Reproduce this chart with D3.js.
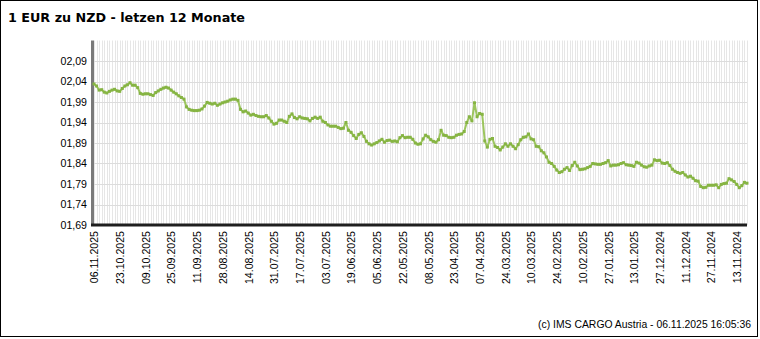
<!DOCTYPE html>
<html>
<head>
<meta charset="utf-8">
<script src="https://cdn.jsdelivr.net/npm/d3@7"></script>
<style>
  html, body { margin: 0; padding: 0; background: #fff; }
  svg { display: block; }
</style>
</head>
<body>
<script>
// ---- data (newest on the left, oldest on the right) ----
const title = "1 EUR zu NZD - letzen 12 Monate";
const footer = "(c) IMS CARGO Austria - 06.11.2025 16:05:36";

const rates = [
  2.034, 2.029, 2.019, 2.020, 2.014, 2.012, 2.016, 2.019, 2.021, 2.017,
  2.016, 2.023, 2.029, 2.032, 2.037, 2.031, 2.031, 2.025, 2.011, 2.009,
  2.010, 2.010, 2.008, 2.006, 2.013, 2.017, 2.021, 2.024, 2.026, 2.024,
  2.019, 2.014, 2.010, 2.005, 2.001, 1.997, 1.978, 1.972, 1.970, 1.969,
  1.969, 1.970, 1.973, 1.980, 1.989, 1.987, 1.985, 1.987, 1.982, 1.985,
  1.988, 1.990, 1.992, 1.995, 1.997, 1.997, 1.994, 1.972, 1.966, 1.968,
  1.963, 1.958, 1.960, 1.957, 1.955, 1.954, 1.954, 1.957, 1.951, 1.943,
  1.936, 1.938, 1.946, 1.946, 1.943, 1.940, 1.955, 1.961, 1.952, 1.949,
  1.954, 1.951, 1.950, 1.949, 1.944, 1.950, 1.953, 1.950, 1.953, 1.943,
  1.940, 1.934, 1.931, 1.931, 1.931, 1.928, 1.925, 1.926, 1.940, 1.921,
  1.916, 1.908, 1.901, 1.911, 1.915, 1.906, 1.894, 1.888, 1.885, 1.888,
  1.891, 1.895, 1.899, 1.892, 1.896, 1.897, 1.894, 1.895, 1.893, 1.903,
  1.908, 1.903, 1.904, 1.904, 1.899, 1.890, 1.887, 1.888, 1.900, 1.909,
  1.905, 1.898, 1.894, 1.892, 1.898, 1.921, 1.909, 1.908, 1.904, 1.903,
  1.904, 1.909, 1.911, 1.912, 1.918, 1.940, 1.954, 1.944, 1.988, 1.954,
  1.962, 1.960, 1.895, 1.880, 1.899, 1.901, 1.882, 1.879, 1.873, 1.880,
  1.888, 1.882, 1.888, 1.882, 1.876, 1.886, 1.898, 1.904, 1.905, 1.912,
  1.900, 1.898, 1.882, 1.881, 1.871, 1.866, 1.856, 1.843, 1.840, 1.833,
  1.824, 1.818, 1.820, 1.826, 1.830, 1.823, 1.835, 1.843, 1.834, 1.825,
  1.826, 1.827, 1.830, 1.833, 1.840, 1.839, 1.838, 1.838, 1.840, 1.842,
  1.847, 1.834, 1.836, 1.836, 1.837, 1.840, 1.842, 1.837, 1.836, 1.835,
  1.833, 1.843, 1.841, 1.836, 1.832, 1.831, 1.834, 1.836, 1.849, 1.847,
  1.848, 1.841, 1.840, 1.842, 1.835, 1.826, 1.821, 1.818, 1.816, 1.818,
  1.812, 1.807, 1.809, 1.804, 1.798, 1.797, 1.784, 1.781, 1.782, 1.787,
  1.787, 1.787, 1.788, 1.781, 1.789, 1.791, 1.792, 1.803, 1.800, 1.796,
  1.789, 1.781, 1.786, 1.794, 1.792
];

// one date label every 10 trading days
const dateLabels = [
  "06.11.2025", "23.10.2025", "09.10.2025", "25.09.2025", "11.09.2025",
  "28.08.2025", "14.08.2025", "31.07.2025", "17.07.2025", "03.07.2025",
  "19.06.2025", "05.06.2025", "22.05.2025", "08.05.2025", "23.04.2025",
  "07.04.2025", "24.03.2025", "10.03.2025", "24.02.2025", "10.02.2025",
  "27.01.2025", "13.01.2025", "27.12.2024", "11.12.2024", "27.11.2024",
  "13.11.2024"
];
const labelStep = 10;

const yTicks = [1.69, 1.74, 1.79, 1.84, 1.89, 1.94, 1.99, 2.04, 2.09];
const yMin = 1.69, yMax = 2.14;

// ---- drawing ----
(function () {
const W = 760, H = 339;
const svg = d3.select("body").append("svg").attr("width", W).attr("height", H);

svg.append("rect").attr("x", 0).attr("y", 0).attr("width", W).attr("height", H).attr("fill", "#fff");
svg.append("rect").attr("x", 0.5).attr("y", 0.5).attr("width", 757).attr("height", 336)
  .attr("fill", "none").attr("stroke", "#000").attr("stroke-width", 1);

svg.append("text").attr("x", 8).attr("y", 22).text(title)
  .attr("font-family", "'DejaVu Sans', Verdana, sans-serif").attr("font-weight", "bold")
  .attr("font-size", "12.75px").attr("fill", "#000");

const pL = 94, pR = 747, pT = 40.5, pB = 225;
const x = d3.scaleLinear().domain([0, rates.length - 1]).range([pL, pR]);
const y = d3.scaleLinear().domain([yMin, yMax]).range([pB, pT]);

// vertical grid (one line per data point)
svg.append("g").selectAll("line").data(d3.range(rates.length)).join("line")
  .attr("x1", i => Math.round(x(i)) + 0.5).attr("x2", i => Math.round(x(i)) + 0.5)
  .attr("y1", pT).attr("y2", pB)
  .attr("stroke", "#e6e6e6").attr("stroke-width", 1);

// horizontal grid
svg.append("g").selectAll("line").data(yTicks).join("line")
  .attr("x1", pL).attr("x2", pR)
  .attr("y1", d => Math.round(y(d)) + 0.5).attr("y2", d => Math.round(y(d)) + 0.5)
  .attr("stroke", "#dcdcdc").attr("stroke-width", 1);

// axes labels
const fontLab = "'Liberation Sans', Arial, sans-serif";
const yAxis = svg.append("g").attr("transform", `translate(${pL},0)`)
  .call(d3.axisLeft(y).tickValues(yTicks).tickSize(0).tickPadding(7)
    .tickFormat(d => "0" + d.toFixed(2).replace(".", ",")));
yAxis.select(".domain").remove();
yAxis.selectAll("text").attr("font-family", fontLab).attr("font-size", "10.6px").attr("fill", "#000");

const xTickIdx = dateLabels.map((_, k) => k * labelStep);
const xAxis = svg.append("g").attr("transform", `translate(0,${pB})`)
  .call(d3.axisBottom(x).tickValues(xTickIdx).tickSize(0)
    .tickFormat(i => dateLabels[i / labelStep]));
xAxis.select(".domain").remove();
xAxis.selectAll("text")
  .attr("font-family", fontLab).attr("font-size", "10.6px").attr("fill", "#000")
  .attr("text-anchor", "end")
  .attr("transform", "rotate(-90)")
  .attr("x", -6).attr("y", 0).attr("dy", "0.36em");

// axis lines
svg.append("line").attr("x1", pL - 1.5).attr("x2", pL - 1.5).attr("y1", pT).attr("y2", pB + 1)
  .attr("stroke", "#7a7a7a").attr("stroke-width", 3);
svg.append("line").attr("x1", pL - 3).attr("x2", pR).attr("y1", pB).attr("y2", pB)
  .attr("stroke", "#1e1e1e").attr("stroke-width", 3);

// series
const line = d3.line().x((d, i) => x(i)).y(d => y(d));
svg.append("path").datum(rates).attr("d", line)
  .attr("fill", "none").attr("stroke", "#9cc55e").attr("stroke-width", 2)
  .attr("stroke-linejoin", "round");
svg.append("g").selectAll("rect").data(rates).join("rect")
  .attr("x", (d, i) => x(i) - 1.5).attr("y", d => y(d) - 1.5)
  .attr("width", 3).attr("height", 3).attr("fill", "#86b443");

// footer
svg.append("text").attr("x", 751).attr("y", 328).attr("text-anchor", "end").text(footer)
  .attr("font-family", fontLab).attr("font-size", "10.4px").attr("fill", "#000");
})();
</script>
</body>
</html>
